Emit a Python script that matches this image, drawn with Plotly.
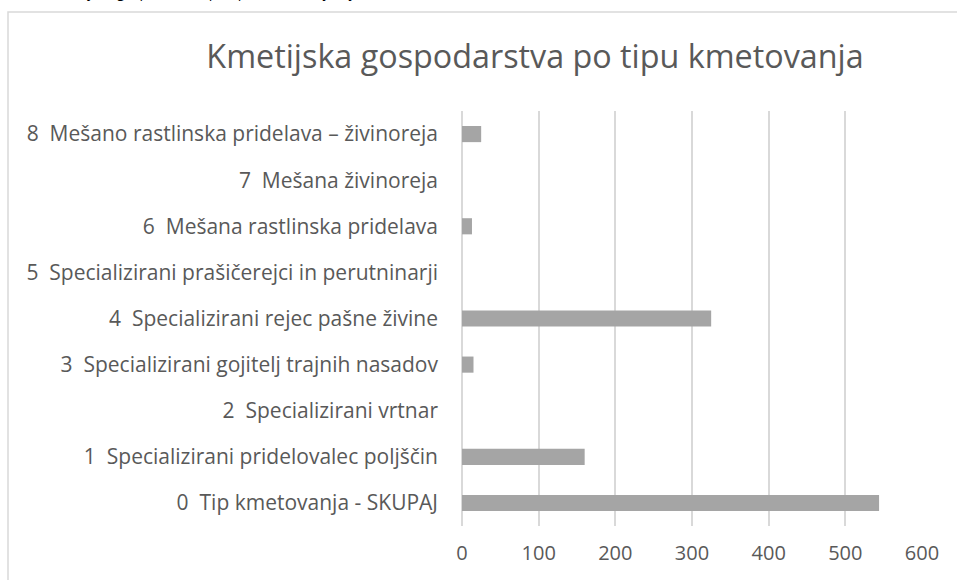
import plotly.graph_objects as go

categories = [
    "0  Tip kmetovanja - SKUPAJ",
    "1  Specializirani pridelovalec poljščin",
    "2  Specializirani vrtnar",
    "3  Specializirani gojitelj trajnih nasadov",
    "4  Specializirani rejec pašne živine",
    "5  Specializirani prašičerejci in perutninarji",
    "6  Mešana rastlinska pridelava",
    "7  Mešana živinoreja",
    "8  Mešano rastlinska pridelava – živinoreja",
]
values = [544, 160, 0, 15, 325, 0, 13, 0, 25]
x_ticks = [0, 100, 200, 300, 400, 500, 600]
title_text = "Kmetijska gospodarstva po tipu kmetovanja"
caption_text = "Kmetijska gospodarstva po tipu kmetovanja, Ljutomer"

W, H = 957, 580
L, R, T, B = 462, 35, 111, 54
pw, ph = W - L - R, H - T - B

def px_x(p):
    return (p - L) / pw

def px_y(p):
    return (H - B - p) / ph

FONT = "'Open Sans', 'Noto Sans', sans-serif"

fig = go.Figure(go.Bar(
    x=values, y=categories, orientation="h",
    marker=dict(color="#a5a5a5", line=dict(width=0)),
    hoverinfo="x+y",
))

fig.update_layout(
    width=W, height=H,
    margin=dict(l=L, r=R, t=T, b=B, autoexpand=False),
    paper_bgcolor="white", plot_bgcolor="white",
    bargap=0.65,
    showlegend=False,
    font=dict(family=FONT, color="#595959", size=20),
    title=dict(text=title_text, x=535 / W, xref="container", xanchor="center",
               y=1 - 57 / H, yref="container", yanchor="middle",
               font=dict(family=FONT, size=32.3, color="#595959")),
    xaxis=dict(range=[0, 600], tickvals=x_ticks, showgrid=True,
               gridcolor="#d9d9d9", gridwidth=1.5, zeroline=True,
               zerolinecolor="#d9d9d9", zerolinewidth=1.5, showline=False,
               ticks="", ticklabelstandoff=13, fixedrange=True,
               tickfont=dict(family=FONT, size=20, color="#595959")),
    yaxis=dict(type="category", categoryorder="array", categoryarray=categories,
               showgrid=False, zeroline=False, showline=False, ticks="",
               ticklabelstandoff=23, fixedrange=True,
               tickfont=dict(family=FONT, size=21, color="#595959")),
    shapes=[dict(type="rect", xref="paper", yref="paper",
                 x0=px_x(8), x1=2.0, y0=-1.0, y1=px_y(12),
                 line=dict(color="#d9d9d9", width=1.5), fillcolor="rgba(0,0,0,0)",
                 layer="below")],
    annotations=[dict(text=caption_text, xref="paper", yref="paper",
                      x=px_x(48), y=px_y(2.5), xanchor="left", yanchor="bottom",
                      showarrow=False,
                      font=dict(family=FONT, size=14, color="#000000"))],
)

fig.write_html(
    "out.html",
    config={"displayModeBar": False},
    post_script="document.body.style.margin='0';document.body.style.overflow='hidden';",
)
